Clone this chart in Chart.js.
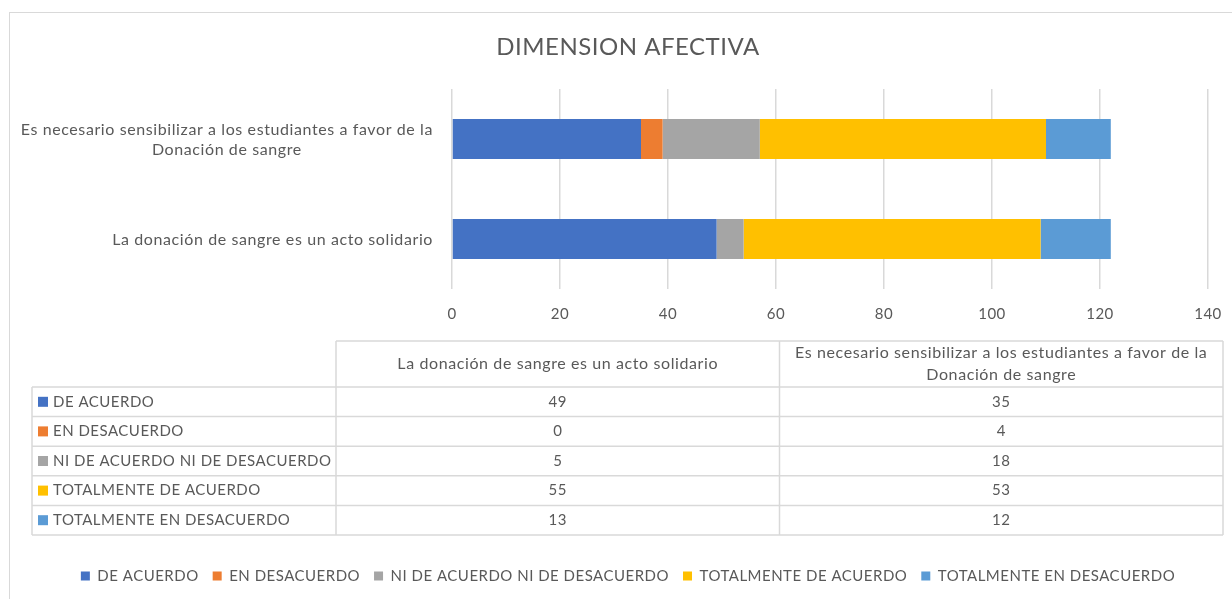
<!DOCTYPE html>
<html lang="es">
<head>
<meta charset="UTF-8">
<title>Dimension afectiva</title>
<script src="https://cdn.jsdelivr.net/npm/chart.js"></script>
<style>
    html, body { margin: 0; padding: 0; background: #fff; overflow: hidden; }
    #frame { position: absolute; left: 9px; top: 12px; width: 1236px; height: 598px; border: 1px solid #d9d9d9; }
    canvas { display: block; }
</style>
</head>
<body>
<div id="frame"><canvas id="chart" width="1236" height="598"></canvas></div>
<script>
// == DATOS == //
const categories = [
    ["La donación de sangre es un acto solidario"],
    ["Es necesario sensibilizar a los estudiantes a favor de la", "Donación de sangre"]
];
const seriesNames = [
    "DE ACUERDO",
    "EN DESACUERDO",
    "NI DE ACUERDO NI DE DESACUERDO",
    "TOTALMENTE DE ACUERDO",
    "TOTALMENTE EN DESACUERDO"
];
const deAcuerdo = [49, 35];
const enDesacuerdo = [0, 4];
const niDeAcuerdo = [5, 18];
const totalmenteDeAcuerdo = [55, 53];
const totalmenteEnDesacuerdo = [13, 12];
const xTicks = [0, 20, 40, 60, 80, 100, 120, 140];

const seriesValues = [deAcuerdo, enDesacuerdo, niDeAcuerdo, totalmenteDeAcuerdo, totalmenteEnDesacuerdo];
const seriesColors = ["#4472C4", "#ED7D31", "#A5A5A5", "#FFC000", "#5B9BD5"];

const FONT = "Lato, 'Open Sans', sans-serif";
const GREY = "#595959";
const LINE = "#d9d9d9";

Chart.defaults.font.family = FONT;
Chart.defaults.font.size = 15;
Chart.defaults.color = GREY;

// 🔹 Espaciado de letras (más cercano al texto de Excel)
const spacing = {
    id: "spacing",
    beforeLayout(chart) { chart.ctx.letterSpacing = "0.5px"; },
    beforeDraw(chart) { chart.ctx.letterSpacing = "0.5px"; }
};

// 🔹 Etiquetas del eje Y: líneas centradas entre sí, bloque alineado a la derecha
const categoryLabels = {
    id: "categoryLabels",
    afterDraw(chart) {
        const ctx = chart.ctx;
        const y = chart.scales.y;
        const right = chart.chartArea.left - 19;
        ctx.save();
        ctx.font = `16px ${FONT}`;
        ctx.letterSpacing = "0.6px";
        ctx.fillStyle = GREY;
        ctx.textAlign = "center";
        ctx.textBaseline = "middle";
        categories.forEach((lines, i) => {
            const w = Math.max(...lines.map(l => ctx.measureText(l).width));
            const cy = y.getPixelForValue(i) + 1;
            lines.forEach((l, k) => {
                ctx.fillText(l, right - w / 2, cy + (k - (lines.length - 1) / 2) * 20);
            });
        });
        ctx.restore();
    }
};

// 🔹 Tabla de datos debajo del eje X
const dataTable = {
    id: "dataTable",
    afterDraw(chart) {
        const ctx = chart.ctx;
        const area = chart.chartArea;
        const left = 22, split = 326, right = area.right + 15;
        const top = area.bottom + 52, headH = 46, rowH = 29.6;
        const colW = (right - split) / categories.length;
        const bodyTop = top + headH;
        const bottom = bodyTop + rowH * seriesNames.length;

        ctx.save();
        ctx.strokeStyle = LINE;
        ctx.lineWidth = 1.5;
        ctx.beginPath();
        ctx.moveTo(split, top); ctx.lineTo(right, top);
        for (let r = 0; r <= seriesNames.length; r++) {
            ctx.moveTo(left, bodyTop + r * rowH);
            ctx.lineTo(right, bodyTop + r * rowH);
        }
        ctx.moveTo(left, bodyTop); ctx.lineTo(left, bottom);
        for (let c = 0; c <= categories.length; c++) {
            ctx.moveTo(split + c * colW, top);
            ctx.lineTo(split + c * colW, bottom);
        }
        ctx.stroke();

        ctx.fillStyle = GREY;
        ctx.textBaseline = "middle";

        // cabecera
        ctx.font = `16px ${FONT}`;
        ctx.letterSpacing = "0.6px";
        ctx.textAlign = "center";
        categories.forEach((lines, c) => {
            const cx = split + colW * (c + 0.5);
            lines.forEach((l, k) => {
                ctx.fillText(l, cx, top + headH / 2 + (k - (lines.length - 1) / 2) * 22);
            });
        });

        // filas
        ctx.font = `15px ${FONT}`;
        ctx.letterSpacing = "0.5px";
        seriesNames.forEach((name, r) => {
            const cy = bodyTop + rowH * (r + 0.5);
            ctx.fillStyle = seriesColors[r];
            ctx.fillRect(left + 6, cy - 5, 10, 10);
            ctx.fillStyle = GREY;
            ctx.textAlign = "left";
            ctx.fillText(name, left + 21, cy);
            ctx.textAlign = "center";
            seriesValues[r].forEach((v, c) => {
                ctx.fillText(String(v), split + colW * (c + 0.5), cy);
            });
        });
        ctx.restore();
    }
};

const datasets = seriesNames.map((name, i) => ({
    label: name,
    data: seriesValues[i],
    backgroundColor: seriesColors[i],
    borderWidth: 0,
    categoryPercentage: 1,
    barPercentage: 0.4
}));

new Chart(document.getElementById("chart").getContext("2d"), {
    type: "bar",
    data: { labels: categories, datasets: datasets },
    plugins: [spacing, categoryLabels, dataTable],
    options: {
        indexAxis: "y",
        responsive: false,
        animation: false,
        layout: { padding: { left: 38, right: 38, top: 0, bottom: 17.5 } },
        scales: {
            x: {
                stacked: true,
                min: xTicks[0],
                max: xTicks[xTicks.length - 1],
                ticks: { stepSize: xTicks[1] - xTicks[0], padding: 16, color: GREY, font: { size: 15 } },
                grid: { color: LINE, lineWidth: 1.5, drawTicks: false },
                border: { display: false },
                afterFit: scale => { scale.height = 265.5; }
            },
            y: {
                stacked: true,
                reverse: true,
                ticks: { display: false },
                grid: { display: false },
                border: { display: false },
                afterFit: scale => { scale.width = 404; }
            }
        },
        plugins: {
            title: {
                display: true,
                text: "DIMENSION AFECTIVA",
                color: GREY,
                font: { size: 24, weight: "normal" },
                padding: { top: 19.6, bottom: 27.6 }
            },
            legend: {
                position: "bottom",
                labels: { boxWidth: 9, boxHeight: 9, padding: 14, color: GREY, font: { size: 15 } }
            },
            tooltip: { enabled: false }
        }
    }
});
</script>
</body>
</html>
